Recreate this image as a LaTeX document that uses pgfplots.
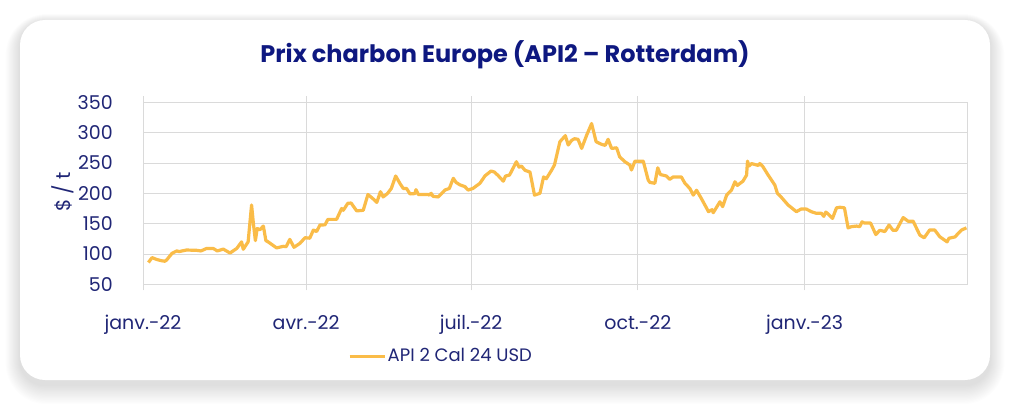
\documentclass[border=0pt]{standalone}
\usepackage{fontspec}
\setmainfont{Poppins}
\usepackage{pgfplots}
\pgfplotsset{compat=1.18}
\usepackage{pgfplotstable}
\definecolor{navy}{RGB}{32,38,118}
\definecolor{titleblue}{RGB}{14,24,128}
\definecolor{coal}{RGB}{250,188,72}
\definecolor{gridgrey}{RGB}{218,218,218}

% jours depuis le 1er janv. 2022, prix en $/t
\pgfplotstableread{
d v
3 86
5 94
7.5 91
10 89
12 88
13 90
16 101
18.6 105
20 104
24 106.5
29.6 106
32 105
35 109
38.8 109
41 105
44.3 108
48 101.6
51.7 109
54.4 120
55.3 107.7
58 120
59.9 180.7
61 147.7
62 122
63 142
64.5 140
66.4 146
67.8 122
69 120
73.7 110
77.4 112.6
79 112
81 124
83.3 111
86.6 117.6
89.4 126.8
92 126
94 139.5
95.8 137
97.6 147.7
100.4 148
102 157
106.8 157
109.6 175
110.5 172
113 183.5
114.8 184
117.9 171
121.5 172
124.1 198
126.9 191
129 185
131 202.6
132.5 194
135 200
137 208
139.4 228.5
141.8 216
143.6 208
145.4 208
147.3 199
150 199.5
150.6 206
151.9 198
157.4 198
158 197
159 200
160 195
162.9 194
166.6 205.4
169 208
171.2 224.7
172.7 218
174.8 214
177.6 211
179.4 205.4
182 208
185.9 216.5
188.6 228.5
192 236.7
193.9 235
196 229
198.8 220
200 228.5
202.2 230
206 252
207.5 243
208.8 245
210.7 238
213.5 235
216 197
219 200
221 227
222.5 224
225.4 238
227 246.6
230 285
233 295
234.6 279.6
236.4 287
238 290
240 289
242 274
244.8 296
247.5 315
250 285
253 280.7
255 279
256.6 289
258.5 274
261.3 275
263 260
265.9 252
268.6 246.6
269.5 238.4
271.4 253
275 253
276 253
278.7 222
279.6 218
282.4 216.5
284 242
285.4 231
288.8 228.5
290.6 223
292.5 227
297 227
299 216.5
301.7 208
303.6 197
305.4 205
308 191.7
312 169.7
313.9 173
314.6 168
318.3 186
319.8 178
322 197
324.7 205.4
326.6 219
327.9 213
331 220
333 230
333.5 253
334.4 245
335.7 249
339.4 246
340.3 249
342 244
344.9 230
348.6 213.6
350 200
352 194
355.9 180.7
360.5 169.7
363 174
366 174
368.7 169.7
371.5 167
374.3 167
375.6 162
376.7 169
378 166
380.4 158.7
382.6 176
384.5 177
387 176
389 143
390.8 145
393.6 146
395.4 145
396.7 153
398 151
401.4 151
404.3 132
406.5 139
409.3 137
411.6 147.7
413.8 139
415.6 139
419.4 160
422.1 154
424.9 154
428.6 131
431 126.7
434 139.5
436.8 139.5
439.6 128.4
443.6 120
444.7 126
447.9 128
451.6 139.5
454.3 143
}\apitable

\begin{document}
\begin{tikzpicture}[x=1pt,y=1pt]
% fond blanc, ombre douce, carte arrondie
\path[use as bounding box, fill=white] (0,0) rectangle (1024,413);
\foreach \i in {1,...,16}{
  \fill[black, opacity=0.009, rounded corners=25pt+\i pt]
    (20-\i*0.9,33-5-\i*1.2) rectangle (990+\i*0.9,393-2+\i*0.5);
}
\fill[white, rounded corners=25pt] (20,33) rectangle (990,393);

\begin{axis}[
  at={(143pt,128.7pt)}, anchor=south west,
  width=824.7pt, height=182pt, scale only axis,
  xmin=0, xmax=455, ymin=50, ymax=350,
  xtick={0,90,181,273,365},
  xticklabels={janv.-22,avr.-22,juil.-22,oct.-22,janv.-23},
  ytick={50,100,...,350},
  grid=major,
  major grid style={draw=gridgrey, line width=0.9pt},
  axis line style={draw=gridgrey, line width=0.9pt},
  xtick style={draw=gridgrey, line width=0.9pt},
  major tick length=6pt,
  tick align=outside,
  ytick style={draw=none},
  tick label style={text=navy, font=\fontsize{19}{22}\selectfont},
  /pgf/number format/assume math mode=true,
  xticklabel style={anchor=base, inner sep=0pt, yshift=-39pt},
  yticklabel style={anchor=east, inner sep=0pt, xshift=-24pt},
  ylabel={\$ / t},
  ylabel style={at={(axis description cs:-0.097,0.507)}, anchor=center,
    text=navy, font=\fontsize{20}{24}\selectfont},
  title={Prix charbon Europe (API2 – Rotterdam)},
  title style={at={(axis description cs:0.439,1.187)}, anchor=base,
    text=titleblue, font=\fontsize{24}{28}\bfseries},
  legend style={at={(axis description cs:0.2486,-0.394)}, anchor=west,
    draw=none, fill=none, inner sep=0pt,
    font=\fontsize{18}{22}\selectfont, text=navy,
    nodes={inner sep=1.5pt}},
  legend image code/.code={\draw[#1, line width=3pt] (0pt,0pt) -- (35pt,0pt);},
]
\addplot[coal, line width=3.2pt, line join=round] table[x=d, y=v] {\apitable};
\addlegendentry{API 2 Cal 24 USD}
\end{axis}
\end{tikzpicture}
\end{document}
